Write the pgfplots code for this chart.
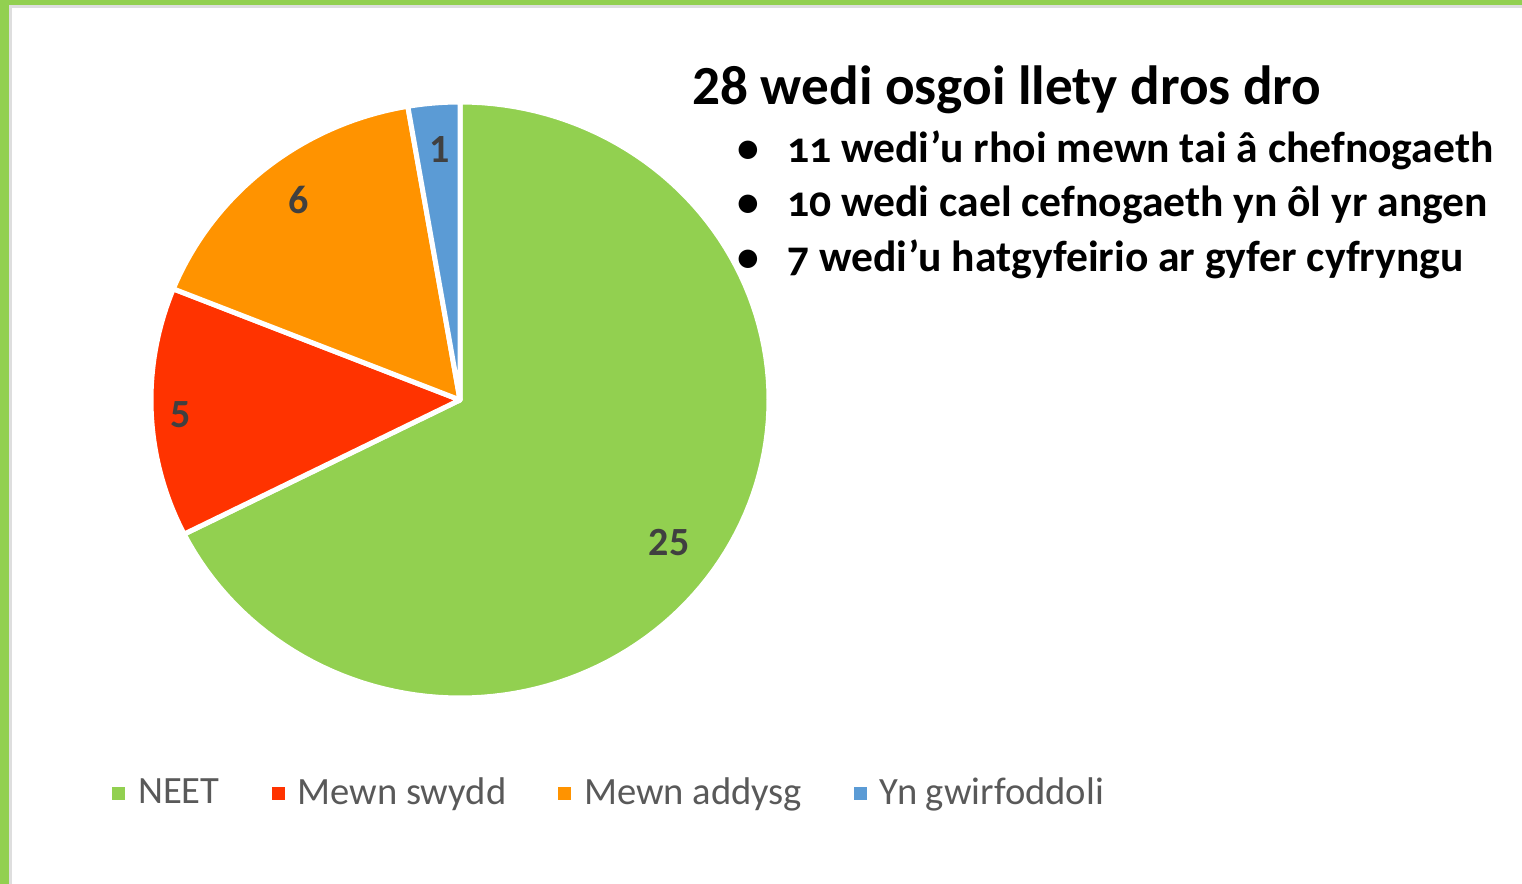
\documentclass[border=0pt]{standalone}
\usepackage{pgfplots}
\usepackage{pgfplotstable}
\pgfplotsset{compat=1.18}
\usepackage{fontspec}
\setmainfont{Carlito}
\newfontfamily\oldnum[Numbers=OldStyle]{Carlito}
\definecolor{cgreen}{HTML}{92D050}
\definecolor{cred}{HTML}{FF3300}
\definecolor{corange}{HTML}{FF9300}
\definecolor{cblue}{HTML}{5B9BD5}
\definecolor{labgray}{HTML}{404040}
\definecolor{leggray}{HTML}{595959}

\pgfplotstableread{
label value
NEET 25
swydd 5
addysg 6
gwirf 1
}\piedata

\begin{document}
\begin{tikzpicture}
\pgfplotstablegetelem{0}{value}\of\piedata\let\vA\pgfplotsretval
\pgfplotstablegetelem{1}{value}\of\piedata\let\vB\pgfplotsretval
\pgfplotstablegetelem{2}{value}\of\piedata\let\vC\pgfplotsretval
\pgfplotstablegetelem{3}{value}\of\piedata\let\vD\pgfplotsretval
\pgfmathsetmacro\tot{\vA+\vB+\vC+\vD}
\pgfmathsetmacro\aA{90}
\pgfmathsetmacro\aB{\aA-360*\vA/\tot}
\pgfmathsetmacro\aC{\aB-360*\vB/\tot}
\pgfmathsetmacro\aD{\aC-360*\vC/\tot}
\pgfmathsetmacro\aE{\aD-360*\vD/\tot}
\begin{axis}[
  scale only axis, width=761bp, height=442bp,
  xmin=0, xmax=1522, ymin=0, ymax=884,
  hide axis, clip=false,
  legend style={at={(axis cs:106,91)}, anchor=west, draw=none, fill=none,
    legend columns=4, font=\fontsize{19.3bp}{23bp}\selectfont, text=leggray,
    /tikz/every even column/.append style={column sep=22bp},
    nodes={inner xsep=4bp}},
  legend cell align=left,
]
% frame
\fill[black!13] (axis cs:9,0) rectangle (axis cs:12,879);
\fill[black!13] (axis cs:9,876) rectangle (axis cs:1522,879);
\fill[cgreen] (axis cs:0,0) rectangle (axis cs:9,884);
\fill[cgreen] (axis cs:0,879) rectangle (axis cs:1522,884);

\addplot[forget plot, fill=cgreen, draw=white, line width=2.5bp, line join=round, domain=\aB:\aA, samples=120, variable=\t]
  ({460+309*cos(t)},{484+298*sin(t)}) -- (axis cs:460,484) -- cycle;
\addplot[forget plot, fill=cred, draw=white, line width=2.5bp, line join=round, domain=\aC:\aB, samples=40, variable=\t]
  ({460+309*cos(t)},{484+298*sin(t)}) -- (axis cs:460,484) -- cycle;
\addplot[forget plot, fill=corange, draw=white, line width=2.5bp, line join=round, domain=\aD:\aC, samples=40, variable=\t]
  ({460+309*cos(t)},{484+298*sin(t)}) -- (axis cs:460,484) -- cycle;
\addplot[forget plot, fill=cblue, draw=white, line width=2.5bp, line join=round, domain=\aE:\aD, samples=10, variable=\t]
  ({460+309*cos(t)},{484+298*sin(t)}) -- (axis cs:460,484) -- cycle;

\addlegendimage{legend image code/.code={\fill[cgreen] (0bp,-3bp) rectangle (6bp,3bp); \path (8.5bp,0bp);}}
\addlegendentry{NEET}
\addlegendimage{legend image code/.code={\fill[cred] (0bp,-3bp) rectangle (6bp,3bp); \path (8.5bp,0bp);}}
\addlegendentry{Mewn swydd}
\addlegendimage{legend image code/.code={\fill[corange] (0bp,-3bp) rectangle (6bp,3bp); \path (8.5bp,0bp);}}
\addlegendentry{Mewn addysg}
\addlegendimage{legend image code/.code={\fill[cblue] (0bp,-3bp) rectangle (6bp,3bp); \path (8.5bp,0bp);}}
\addlegendentry{Yn gwirfoddoli}

% slice labels
\node[font=\bfseries\fontsize{20bp}{23bp}\selectfont, text=labgray] at (axis cs:669,341) {\vA};
\node[font=\bfseries\fontsize{20bp}{23bp}\selectfont, text=labgray] at (axis cs:181,469) {\vB};
\node[font=\bfseries\fontsize{20bp}{23bp}\selectfont, text=labgray] at (axis cs:299,684) {\vC};
\node[font=\bfseries\fontsize{20bp}{23bp}\selectfont, text=labgray] at (axis cs:440,734) {\vD};

% text block
\node[anchor=base west, inner sep=0pt, font=\bfseries\fontsize{27.6bp}{32bp}\selectfont] at (axis cs:692,779) {28 wedi osgoi llety dros dro};
\node[anchor=base west, inner sep=0pt, font=\bfseries\fontsize{21.8bp}{25bp}\selectfont] at (axis cs:737,721) {\textbullet};
\node[anchor=base west, inner sep=0pt, font=\bfseries\fontsize{21.8bp}{25bp}\selectfont] at (axis cs:737,667) {\textbullet};
\node[anchor=base west, inner sep=0pt, font=\bfseries\fontsize{21.8bp}{25bp}\selectfont] at (axis cs:737,612) {\textbullet};
\node[anchor=base west, inner sep=0pt, font=\oldnum\bfseries\fontsize{21.8bp}{25bp}\selectfont] at (axis cs:787,721) {11 wedi’u rhoi mewn tai â chefnogaeth};
\node[anchor=base west, inner sep=0pt, font=\oldnum\bfseries\fontsize{21.8bp}{25bp}\selectfont] at (axis cs:787,667) {10 wedi cael cefnogaeth yn ôl yr angen};
\node[anchor=base west, inner sep=0pt, font=\oldnum\bfseries\fontsize{21.8bp}{25bp}\selectfont] at (axis cs:787,612) {7 wedi’u hatgyfeirio ar gyfer cyfryngu};
\end{axis}
\end{tikzpicture}
\end{document}
